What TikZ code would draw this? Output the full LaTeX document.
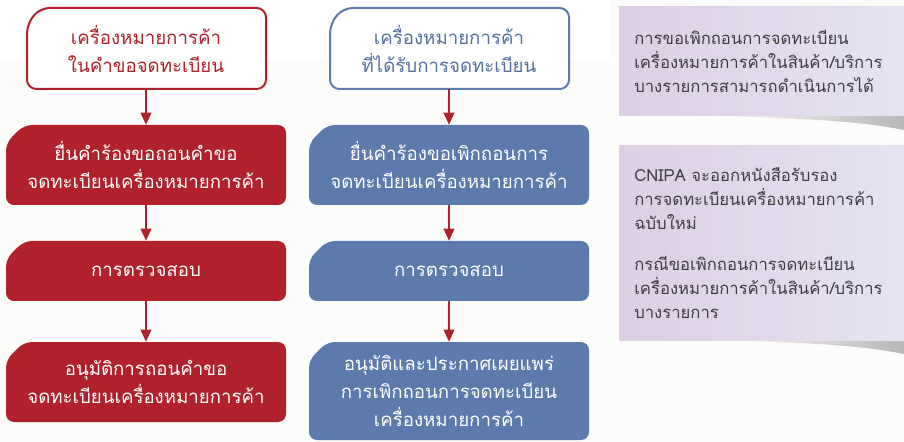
\documentclass[tikz,border=0pt]{standalone}
\usepackage{fontspec}
\newfontfamily\thaifont[Script=Thai]{Loma}
\usepackage{tikz}
\usetikzlibrary{arrows.meta}

\definecolor{tmred}{RGB}{176,33,43}
\definecolor{tmblue}{RGB}{92,122,171}
\definecolor{tmbluetxt}{RGB}{84,112,163}
\definecolor{notel}{RGB}{221,206,228}
\definecolor{noter}{RGB}{229,227,242}
\definecolor{notetxt}{RGB}{62,62,66}
\definecolor{paper}{RGB}{252,252,251}

\tikzset{
  flowtxt/.style={inner sep=0.75pt, align=center, minimum width=210pt,
    font=\thaifont\fontsize{14}{21}\selectfont},
  notetxt/.style={inner sep=0.75pt, align=left, anchor=west, text=notetxt,
    font=\thaifont\fontsize{12.5}{18}\selectfont},
  flowarr/.style={draw=tmred, line width=1.1pt, -{Triangle[length=9pt,width=8pt]}},
}

\begin{document}
\begin{tikzpicture}[x=0.75pt,y=0.75pt,yscale=-1,xscale=1]
%set diagram left start at 0, width 904, height 442
\useasboundingbox (0,0) rectangle (904,442);
\fill[paper] (0,0) rectangle (904,442);
\fill[white] (0,0) rectangle (610,60);

%Shadows under the notes
\shade[left color=paper, right color=black!28] (710,116) .. controls (800,118) and (860,121) .. (904,130) -- (904,116) -- cycle;
\shade[left color=paper, right color=black!28] (710,340) .. controls (800,342) and (860,345) .. (904,354) -- (904,340) -- cycle;

%Notes
\shade[left color=notel, right color=noter] (619,7) rectangle (904,116);
\shade[left color=notel, right color=noter] (619,146) rectangle (904,340);

%Left column boxes
\draw [draw=tmred, fill=white, line width=1.5pt, rounded corners=7] (27,24) -- (40,8) -- (266,8) -- (266,89) -- (27,89) -- cycle ;
\fill [tmred, rounded corners=6] (6,143) -- (24,125) -- (286,125) -- (286,205) -- (6,205) -- cycle ;
\fill [tmred, rounded corners=6] (6,259) -- (24,241) -- (286,241) -- (286,301) -- (6,301) -- cycle ;
\fill [tmred, rounded corners=6] (6,360) -- (24,342) -- (286,342) -- (286,422) -- (6,422) -- cycle ;

%Middle column boxes
\draw [draw=tmblue, fill=white, line width=1.5pt, rounded corners=7] (330,24) -- (343,8) -- (569,8) -- (569,89) -- (330,89) -- cycle ;
\fill [tmblue, rounded corners=6] (309,143) -- (327,125) -- (589,125) -- (589,205) -- (309,205) -- cycle ;
\fill [tmblue, rounded corners=6] (309,259) -- (327,241) -- (589,241) -- (589,301) -- (309,301) -- cycle ;
\fill [tmblue, rounded corners=6] (309,360) -- (327,342) -- (589,342) -- (589,440) -- (309,440) -- cycle ;

% Text Node
\node (lmark) at (146,48.5) [flowtxt, minimum width=179pt, minimum height=60.75pt, text=tmred] {เครื่องหมายการค้า\\ในคำขอจดทะเบียน};
% Text Node
\node (lfile) at (146,165) [flowtxt, minimum height=60pt, text=white] {ยื่นคำร้องขอถอนคำขอ\\จดทะเบียนเครื่องหมายการค้า};
% Text Node
\node (lcheck) at (146,271) [flowtxt, minimum height=45pt, text=white] {การตรวจสอบ};
% Text Node
\node (lapprove) at (146,382) [flowtxt, minimum height=60pt, text=white] {อนุมัติการถอนคำขอ\\จดทะเบียนเครื่องหมายการค้า};

% Text Node
\node (rmark) at (449,48.5) [flowtxt, minimum width=179pt, minimum height=60.75pt, text=tmbluetxt] {เครื่องหมายการค้า\\ที่ได้รับการจดทะเบียน};
% Text Node
\node (rfile) at (449,165) [flowtxt, minimum height=60pt, text=white] {ยื่นคำร้องขอเพิกถอนการ\\จดทะเบียนเครื่องหมายการค้า};
% Text Node
\node (rcheck) at (449,271) [flowtxt, minimum height=45pt, text=white] {การตรวจสอบ};
% Text Node
\node (rapprove) at (449,391) [flowtxt, minimum height=73.5pt, text=white] {อนุมัติและประกาศเผยแพร่\\การเพิกถอนการจดทะเบียน\\เครื่องหมายการค้า};

% Text Node
\node (note1) at (633,61) [notetxt] {การขอเพิกถอนการจดทะเบียน\\เครื่องหมายการค้าในสินค้า/บริการ\\บางรายการสามารถดำเนินการได้};
% Text Node
\node (note2) at (633,199) [notetxt] {CNIPA จะออกหนังสือรับรอง\\การจดทะเบียนเครื่องหมายการค้า\\ฉบับใหม่};
% Text Node
\node (note3) at (633,287) [notetxt] {กรณีขอเพิกถอนการจดทะเบียน\\เครื่องหมายการค้าในสินค้า/บริการ\\บางรายการ};

%Arrows
\draw [flowarr] (lmark) -- (lfile) ;
\draw [flowarr] (lfile) -- (lcheck) ;
\draw [flowarr] (lcheck) -- (lapprove) ;
\draw [flowarr] (rmark) -- (rfile) ;
\draw [flowarr] (rfile) -- (rcheck) ;
\draw [flowarr] (rcheck) -- (rapprove) ;

\end{tikzpicture}
\end{document}
